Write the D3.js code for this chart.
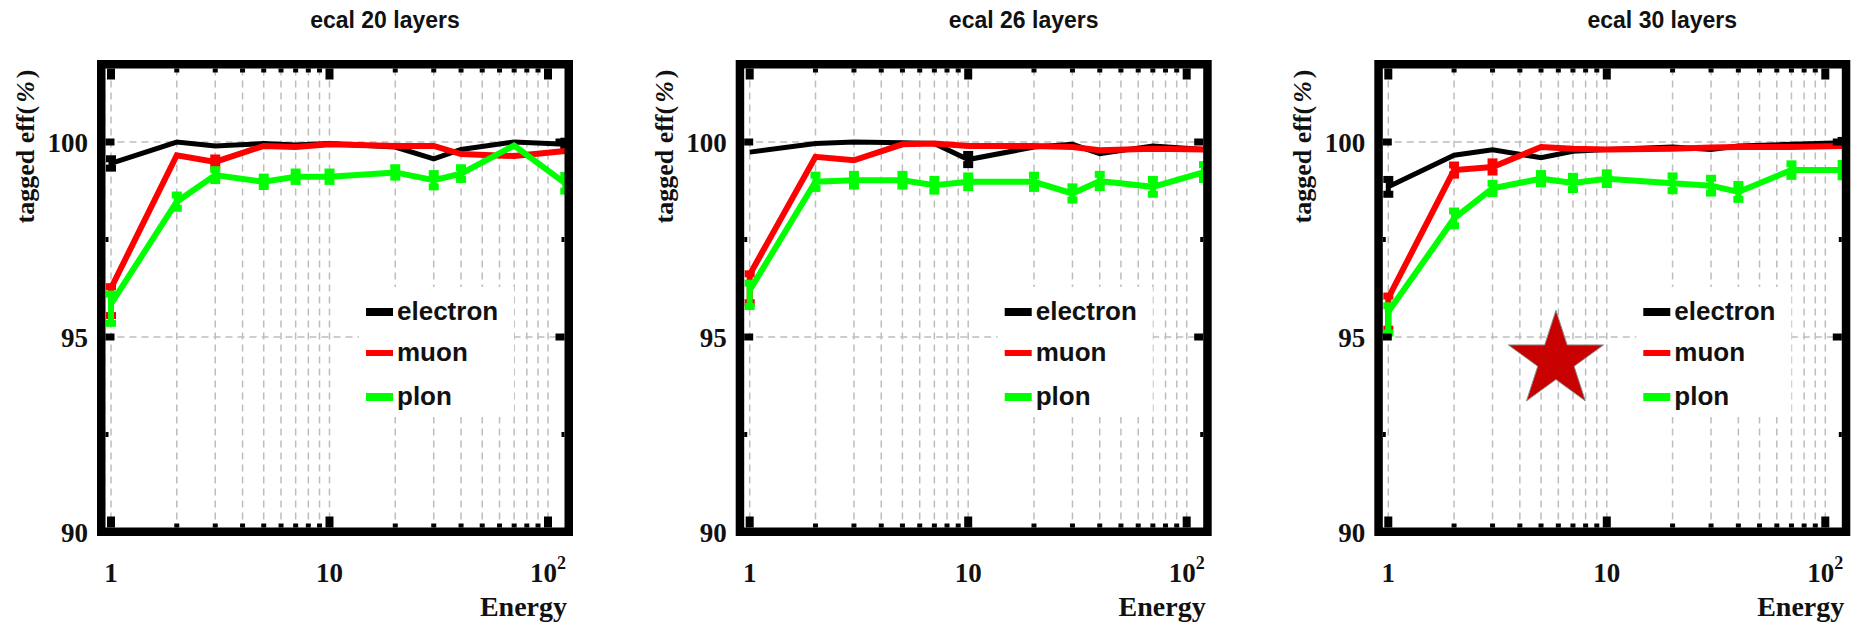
<!DOCTYPE html>
<html>
<head>
<meta charset="utf-8">
<script src="https://cdn.jsdelivr.net/npm/d3@7"></script>
<style>
  html, body { margin: 0; padding: 0; background: #fff; }
  svg { display: block; }
</style>
</head>
<body>
<svg id="chart" width="1863" height="627"></svg>
<script>
// ---- data ---------------------------------------------------------------
const energies = [1, 2, 3, 5, 7, 10, 20, 30, 40, 70, 120];
const panelTitles = ["ecal 20 layers", "ecal 26 layers", "ecal 30 layers"];
const seriesNames = ["electron", "muon", "plon"];
const yTickValues = [90, 95, 100];
const xTickValues = [1, 10, 100];

// ecal 20 layers
const electron20     = [99.45, 100.0, 99.90, 99.96, 99.92, 99.96, 99.87, 99.57, 99.81, 100.0, 99.94];
const electron20Down = [0.12, null, null, null, null, null, null, null, null, null, 0.08];
const electron20Up   = [0.12, null, null, null, null, null, null, null, null, null, 0.08];
const muon20         = [96.25, 99.66, 99.49, 99.90, 99.87, 99.94, 99.90, 99.90, 99.69, 99.64, 99.77];
const muon20Down     = [0.70, null, 0.10, null, null, null, null, null, null, null, null];
const muon20Up       = [0.04, null, 0.10, null, null, null, null, null, null, null, null];
const pion20         = [95.85, 98.47, 99.15, 98.98, 99.11, 99.11, 99.22, 99.02, 99.19, 99.91, 98.94];
const pion20Down     = [0.50, 0.17, 0.14, 0.12, 0.12, 0.12, 0.12, 0.17, 0.15, null, 0.20];
const pion20Up       = [0.25, 0.17, 0.14, 0.12, 0.12, 0.12, 0.12, 0.17, 0.15, null, 0.20];

// ecal 26 layers
const electron26     = [99.74, 99.96, 100.0, 99.98, 99.96, 99.55, 99.87, 99.94, 99.70, 99.90, 99.81];
const electron26Down = [null, null, null, null, null, 0.13, null, null, null, null, null];
const electron26Up   = [null, null, null, null, null, 0.13, null, null, null, null, null];
const muon26         = [96.60, 99.62, 99.53, 99.94, 99.96, 99.90, 99.90, 99.87, 99.79, 99.83, 99.81];
const muon26Down     = [0.72, null, null, null, null, null, null, null, null, null, null];
const muon26Up       = [0.02, null, null, null, null, null, null, null, null, null, null];
const pion26         = [96.20, 98.98, 99.02, 99.02, 98.89, 98.98, 98.98, 98.68, 99.00, 98.85, 99.23];
const pion26Down     = [0.42, 0.17, 0.15, 0.15, 0.15, 0.15, 0.17, 0.17, 0.17, 0.19, 0.19];
const pion26Up       = [0.18, 0.17, 0.15, 0.15, 0.15, 0.15, 0.17, 0.17, 0.17, 0.19, 0.19];

// ecal 30 layers
const electron30     = [98.85, 99.66, 99.80, 99.60, 99.76, 99.81, 99.87, 99.81, 99.90, 99.94, 99.98];
const electron30Down = [0.19, null, null, null, null, null, null, null, null, null, 0.06];
const electron30Up   = [0.19, null, null, null, null, null, null, null, null, null, 0.06];
const muon30         = [96.00, 99.28, 99.36, 99.87, 99.83, 99.81, 99.83, 99.86, 99.87, 99.87, 99.90];
const muon30Down     = [0.80, 0.13, 0.13, null, null, null, null, null, null, null, null];
const muon30Up       = [0.05, 0.13, 0.13, null, null, null, null, null, null, null, null];
const pion30         = [95.65, 98.04, 98.81, 99.06, 98.95, 99.06, 98.94, 98.88, 98.72, 99.28, 99.28];
const pion30Down     = [0.55, 0.19, 0.13, 0.13, 0.17, 0.15, 0.19, 0.19, 0.19, 0.16, 0.17];
const pion30Up       = [0.15, 0.19, 0.13, 0.13, 0.17, 0.15, 0.19, 0.19, 0.19, 0.16, 0.17];

// star annotation in the 30-layer panel (energy, efficiency)
const starPoint = [5.85, 94.4];

// ---- assembly -------------------------------------------------------------
const panels = [
  { title: panelTitles[0], series: [
      { values: electron20, down: electron20Down, up: electron20Up },
      { values: muon20,     down: muon20Down,     up: muon20Up },
      { values: pion20,     down: pion20Down,     up: pion20Up } ] },
  { title: panelTitles[1], series: [
      { values: electron26, down: electron26Down, up: electron26Up },
      { values: muon26,     down: muon26Down,     up: muon26Up },
      { values: pion26,     down: pion26Down,     up: pion26Up } ] },
  { title: panelTitles[2], series: [
      { values: electron30, down: electron30Down, up: electron30Up },
      { values: muon30,     down: muon30Down,     up: muon30Up },
      { values: pion30,     down: pion30Down,     up: pion30Up } ], star: starPoint }
];

const seriesColors = ["#000000", "#ff0000", "#00ff00"];
const seriesWidths = [5, 6, 6];
const legendWidths = [8, 6, 8];

// ---- layout ---------------------------------------------------------------
const panelLeft = [97, 735.7, 1374.3];
const frameW = 476, frameTop = 60, frameBottom = 536, border = 8.5;
const innerL = border, innerR = frameW - border, innerT = frameTop + border, innerB = frameBottom - border;

const x = d3.scaleLog().domain([1, 100]).range([14, 451]);
const y = d3.scaleLinear().domain([90, 102]).range([532, 64]);

const serif = "'Liberation Serif', 'Times New Roman', serif";
const sans = "'Liberation Sans', Arial, Helvetica, sans-serif";

const gridX = d3.range(1, 10).concat(d3.range(10, 100, 10)).concat([100]);
const minorX = gridX.filter(v => xTickValues.indexOf(v) < 0);
const gridY = [95, 100];
const minorY = [92.5, 97.5];

const svg = d3.select("#chart");

panels.forEach((p, pi) => {
  const g = svg.append("g").attr("transform", `translate(${panelLeft[pi]},0)`);

  // title
  g.append("text")
    .attr("x", 288).attr("y", 28)
    .attr("text-anchor", "middle")
    .style("font-family", sans).style("font-weight", "bold").style("font-size", "23px")
    .attr("fill", "#111")
    .text(p.title);

  // dashed grid
  const grid = g.append("g")
    .attr("stroke", "#bdbdbd").attr("stroke-width", 1.5).attr("stroke-dasharray", "7,5").attr("fill", "none");
  grid.selectAll("line.gx").data(gridX).join("line")
    .attr("class", "gx")
    .attr("x1", d => x(d)).attr("x2", d => x(d))
    .attr("y1", innerT).attr("y2", innerB);
  grid.selectAll("line.gy").data(gridY).join("line")
    .attr("class", "gy")
    .attr("x1", innerL).attr("x2", innerR)
    .attr("y1", d => y(d)).attr("y2", d => y(d));

  // legend background (hides the grid behind the key)
  g.append("rect")
    .attr("x", 262).attr("y", 287).attr("width", 155).attr("height", 130)
    .attr("fill", "#fff");

  // star annotation
  if (p.star) {
    const R = 50, r = R * 0.382;
    const pts = d3.range(10).map(k => {
      const a = -Math.PI / 2 + k * Math.PI / 5;
      const rad = k % 2 === 0 ? R : r;
      return [rad * Math.cos(a), rad * Math.sin(a)];
    });
    g.append("polygon")
      .attr("transform", `translate(${x(p.star[0])},${y(p.star[1])})`)
      .attr("points", pts.map(d => d.join(",")).join(" "))
      .attr("fill", "#c80000").attr("stroke", "#8a8a8a").attr("stroke-width", 1);
  }

  // series lines and error bars
  const line = d3.line().x((d, i) => x(energies[i])).y(d => y(d));
  p.series.forEach((s, si) => {
    const col = seriesColors[si], w = seriesWidths[si];
    g.append("path")
      .attr("d", line(s.values))
      .attr("fill", "none").attr("stroke", col).attr("stroke-width", w)
      .attr("stroke-linejoin", "miter");
    const bars = energies.map((e, i) => ({ e, v: s.values[i], dn: s.down[i], up: s.up[i] }))
      .filter(d => d.dn !== null);
    const eb = g.append("g").attr("fill", col);
    bars.forEach(d => {
      const yLo = y(d.v - d.dn), yHi = y(d.v + d.up), cx = x(d.e);
      eb.append("rect").attr("x", cx - w / 2).attr("y", yHi).attr("width", w).attr("height", yLo - yHi);
      eb.append("rect").attr("x", cx - 5).attr("y", yHi - 3.5).attr("width", 10).attr("height", 7);
      eb.append("rect").attr("x", cx - 5).attr("y", yLo - 3.5).attr("width", 10).attr("height", 7);
    });
  });

  // legend
  seriesNames.forEach((name, si) => {
    const ly = [312, 353, 397][si];
    g.append("line")
      .attr("x1", 269).attr("x2", 296).attr("y1", ly).attr("y2", ly)
      .attr("stroke", seriesColors[si]).attr("stroke-width", legendWidths[si]);
    g.append("text")
      .attr("x", 300).attr("y", ly + 8)
      .style("font-family", sans).style("font-weight", "bold").style("font-size", "26px")
      .attr("fill", "#111")
      .text(name);
  });

  // frame
  g.append("rect")
    .attr("x", border / 2).attr("y", frameTop + border / 2)
    .attr("width", frameW - border).attr("height", frameBottom - frameTop - border)
    .attr("fill", "none").attr("stroke", "#000").attr("stroke-width", border);

  // x ticks (bottom and top, pointing inward)
  const ticks = g.append("g").attr("fill", "#000");
  xTickValues.forEach(v => {
    ticks.append("rect").attr("x", x(v) - 4).attr("y", innerB - 11).attr("width", 8).attr("height", 11);
    ticks.append("rect").attr("x", x(v) - 4).attr("y", innerT).attr("width", 8).attr("height", 11);
  });
  minorX.forEach(v => {
    ticks.append("rect").attr("x", x(v) - 2.5).attr("y", innerB - 4).attr("width", 5).attr("height", 4);
    ticks.append("rect").attr("x", x(v) - 2.5).attr("y", innerT).attr("width", 5).attr("height", 4);
  });
  // y ticks (left and right)
  gridY.forEach(v => {
    ticks.append("rect").attr("x", innerL).attr("y", y(v) - 3.5).attr("width", 9).attr("height", 7);
    ticks.append("rect").attr("x", innerR - 9).attr("y", y(v) - 3.5).attr("width", 9).attr("height", 7);
  });
  minorY.forEach(v => {
    ticks.append("rect").attr("x", innerL).attr("y", y(v) - 2.5).attr("width", 3).attr("height", 5);
    ticks.append("rect").attr("x", innerR - 3).attr("y", y(v) - 2.5).attr("width", 3).attr("height", 5);
  });

  // y tick labels
  g.selectAll("text.ylab").data(yTickValues).join("text")
    .attr("class", "ylab")
    .attr("x", -9).attr("y", d => y(d) + 10)
    .attr("text-anchor", "end")
    .style("font-family", serif).style("font-weight", "bold").style("font-size", "27px")
    .attr("fill", "#111")
    .text(d => d);

  // x tick labels (powers of ten)
  xTickValues.forEach(v => {
    const t = g.append("text")
      .attr("x", x(v)).attr("y", 582)
      .attr("text-anchor", "middle")
      .style("font-family", serif).style("font-weight", "bold").style("font-size", "27px")
      .attr("fill", "#111");
    if (v < 100) {
      t.text(v);
    } else {
      t.append("tspan").text("10");
      t.append("tspan").attr("dy", -13).style("font-size", "18px").text("2");
    }
  });

  // axis titles
  g.append("text")
    .attr("x", 470).attr("y", 616)
    .attr("text-anchor", "end")
    .style("font-family", serif).style("font-weight", "bold").style("font-size", "28px")
    .attr("fill", "#111")
    .text("Energy");

  const yl = g.append("text")
    .attr("transform", "translate(-63,146.5) rotate(-90)")
    .attr("text-anchor", "middle")
    .style("font-family", serif).style("font-weight", "bold").style("font-size", "26px")
    .attr("fill", "#111");
  yl.append("tspan").text("tagged eff(");
  yl.append("tspan").attr("dx", 3).style("font-style", "italic").text("%");
  yl.append("tspan").attr("dx", 3).text(")");
});
</script>
</body>
</html>
